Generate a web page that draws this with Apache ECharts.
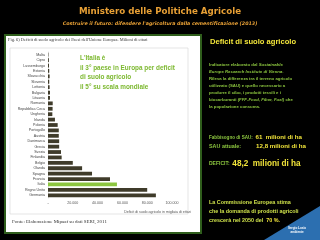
<!DOCTYPE html>
<html>
<head>
<meta charset="utf-8">
<script src="https://cdn.jsdelivr.net/npm/echarts@6/dist/echarts.min.js"></script>
<style>
  html, body { margin: 0; padding: 0; background: #000; }
  #deficitChart { width: 320px; height: 240px; }
</style>
</head>
<body>
<div id="deficitChart"></div>
<script>
// paesi UE, dall'alto verso il basso
var paesi = ["Malta", "Cipro", "Lussemburgo", "Estonia", "Slovacchia", "Slovenia", "Lettonia",
  "Bulgaria", "Lituania", "Romania", "Repubblica Ceca", "Ungheria", "Irlanda", "Polonia",
  "Portogallo", "Austria", "Danimarca", "Grecia", "Svezia", "Finlandia", "Belgio", "Olanda",
  "Spagna", "Francia", "Italia", "Regno Unito", "Germania"];
// deficit in migliaia di ettari
var deficit = [300, 700, 800, 1000, 1300, 1000, 1300,
  1600, 1600, 3800, 3700, 3500, 5600, 7800,
  8700, 8700, 9000, 9000, 10500, 11000, 20000, 27500,
  35500, 50000, 55600, 80000, 87000];
var tickValori = [0, 20000, 40000, 60000, 80000, 100000];

var coloreBarra = "#3f3b2a";
var coloreItalia = "#8cc63f";

var myChart = echarts.init(document.getElementById("deficitChart"));

var option = {
  backgroundColor: "#000",
  animation: false,
  grid: {
    left: 48,
    right: 148,
    top: 52,
    bottom: 42
  },
  xAxis: {
    type: "value",
    min: tickValori[0],
    max: tickValori[tickValori.length - 1],
    interval: tickValori[1] - tickValori[0],
    axisLine: { show: false },
    axisTick: { show: false },
    splitLine: { show: false },
    axisLabel: {
      fontSize: 3.6,
      color: "#555",
      margin: 3,
      fontFamily: "Liberation Sans",
      formatter: function(v) {
        if (v === 0) return "-";
        return String(v / 1000) + ".000";
      }
    },
    name: "Deficit di suolo agricolo in migliaia di ettari",
    nameLocation: "middle",
    nameGap: 10,
    nameTextStyle: {
      fontSize: 3.6,
      color: "#555",
      fontFamily: "Liberation Sans",
      padding: [0, 0, 0, 95]
    }
  },
  yAxis: {
    type: "category",
    inverse: true,
    data: paesi,
    axisLine: { show: true, lineStyle: { color: "#d0d0d0", width: 0.6 } },
    axisTick: { show: false },
    axisLabel: {
      fontSize: 3.6,
      color: "#444",
      margin: 3,
      interval: 0,
      fontFamily: "Liberation Sans"
    }
  },
  series: [
    {
      name: "Deficit",
      type: "bar",
      barCategoryGap: "30%",
      data: deficit.map(function(v, i) {
        return {
          value: v,
          itemStyle: { color: paesi[i] === "Italia" ? coloreItalia : coloreBarra }
        };
      }),
      z: 5
    }
  ],
  graphic: [
    // pannello bianco
    {
      type: "rect",
      z: -10,
      shape: { x: 5, y: 35, width: 196, height: 198 },
      style: { fill: "#fff", stroke: "#2f5e1c", lineWidth: 2 }
    },
    {
      type: "rect",
      z: -9,
      shape: { x: 10, y: 48, width: 178, height: 166 },
      style: { fill: "#fff", stroke: "#d4d4d4", lineWidth: 0.6 }
    },
    // titolo
    {
      type: "text",
      left: "center",
      top: 7,
      style: {
        text: "Ministero delle Politiche Agricole",
        fill: "#e8a035",
        font: "bold 8.7px 'DejaVu Sans'"
      }
    },
    {
      type: "text",
      left: "center",
      top: 21,
      style: {
        text: "Costruire il futuro: difendere l'agricoltura dalla cementificazione (2013)",
        fill: "#e8a035",
        font: "italic bold 4.8px 'DejaVu Sans'"
      }
    },
    // didascalia
    {
      type: "text",
      x: 8,
      y: 37.5,
      style: {
        text: "Fig. 6) Deficit di suolo agricolo dei Paesi dell'Unione Europea. Milioni di ettari",
        fill: "#333",
        font: "4.4px 'Liberation Serif'"
      }
    },
    {
      type: "text",
      x: 12,
      y: 219,
      style: {
        text: "Fonte: Elaborazione Mipaaf su dati SERI, 2011",
        fill: "#333",
        font: "5px 'Liberation Serif'"
      }
    },
    // testo verde nel grafico
    {
      type: "text",
      x: 80,
      y: 53.5,
      style: {
        text: "L'Italia è\nil 3° paese in Europa per deficit\ndi suolo agricolo\nil 5° su scala mondiale",
        fill: "#7cb82f",
        font: "bold 6.4px 'Liberation Sans'",
        lineHeight: 9.5
      }
    },
    // colonna di destra
    {
      type: "text",
      x: 210,
      y: 38,
      style: {
        text: "Deficit di suolo agricolo",
        fill: "#f2e53a",
        font: "bold 7.6px 'Liberation Sans'"
      }
    },
    {
      type: "text",
      x: 209,
      y: 61,
      style: {
        text: "{n|Indicatore elaborato dal }{i|Sustainable}\n{i|Europe Research Institute di Vienna.}\n{n|Rileva la differenza tra il terreno agricolo}\n{n|utilizzato (SAU) e quello necessario a}\n{n|produrre il cibo, i prodotti tessili e i}\n{n|biocarburanti }{i|(FFF-Food, Fiber, Fuel)}{n| che}\n{n|la popolazione consuma.}",
        rich: {
          n: { fill: "#8cc63f", font: "bold 4.3px 'Liberation Sans'", lineHeight: 7.1 },
          i: { fill: "#8cc63f", font: "italic bold 4.3px 'Liberation Sans'", lineHeight: 7.1 }
        }
      }
    },
    {
      type: "text",
      x: 209,
      y: 133,
      style: {
        text: "{g|Fabbisogno di SAU:  }{y|61  milioni di ha}\n{g2|SAU attuale:          }{y|12,8 milioni di ha}",
        rich: {
          g: { fill: "#8cc63f", font: "bold 4.6px 'Liberation Sans'", lineHeight: 9 },
          g2: { fill: "#8cc63f", font: "bold 5.4px 'Liberation Sans'", lineHeight: 9 },
          y: { fill: "#f2e53a", font: "bold 6.2px 'Liberation Sans'", lineHeight: 9 }
        }
      }
    },
    {
      type: "text",
      x: 209,
      y: 160,
      style: {
        text: "{g|DEFICIT:  }{y|48,2  milioni di ha}",
        rich: {
          g: { fill: "#8cc63f", font: "bold 5px 'Liberation Sans'" },
          y: { fill: "#f2e53a", font: "bold 8.2px 'Liberation Sans'" }
        }
      }
    },
    {
      type: "text",
      x: 209,
      y: 198,
      style: {
        text: "{t|La Commissione Europea stima}\n{t|che la domanda di prodotti agricoli}\n{t|crescerà nel 2050 del  }{y|70 %.}",
        rich: {
          t: { fill: "#cde04a", font: "bold 5.4px 'Liberation Sans'", lineHeight: 9 },
          y: { fill: "#f2e53a", font: "bold 5.4px 'Liberation Sans'", lineHeight: 9 }
        }
      }
    },
    // triangolo blu in basso a destra
    {
      type: "polygon",
      z: -5,
      shape: { points: [[264, 240], [320, 206], [320, 240]] },
      style: { fill: "#2c6fb0" }
    },
    {
      type: "text",
      x: 297,
      y: 226,
      style: {
        text: "Sergio Losio\nambiente",
        fill: "#fff",
        font: "bold 3px 'Liberation Sans'",
        align: "center",
        lineHeight: 4
      }
    }
  ]
};
myChart.setOption(option);
</script>
</body>
</html>
